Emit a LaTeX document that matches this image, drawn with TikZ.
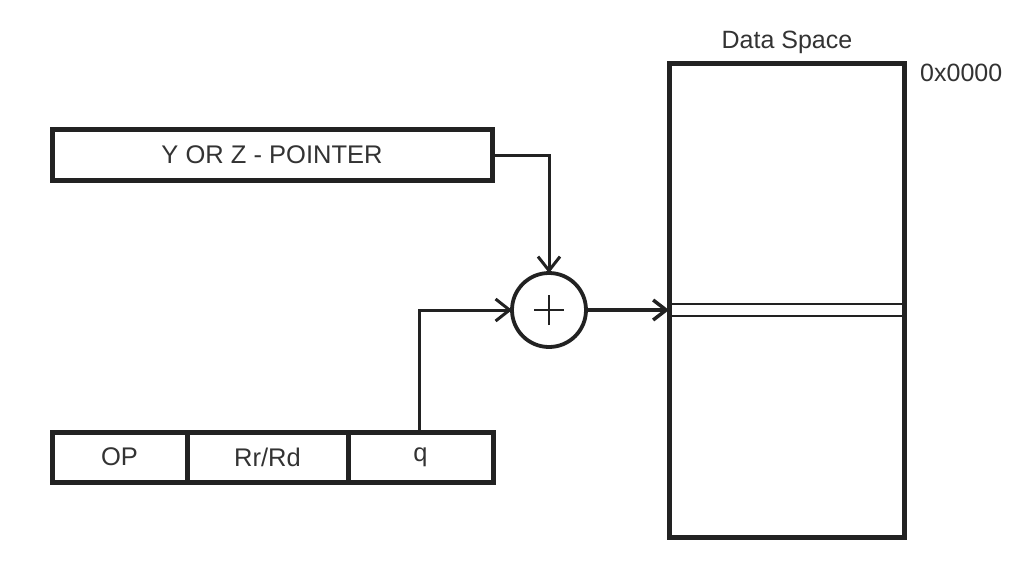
\documentclass[tikz,border=0pt]{standalone}
\usepackage{fontspec}
\setmainfont{Liberation Sans}
\usetikzlibrary{arrows.meta}
\definecolor{ink}{HTML}{222222}
\definecolor{txt}{HTML}{333333}
\tikzset{
  boxline/.style={draw=ink, line width=5pt, inner sep=0pt, outer sep=0pt, text=txt, font=\fontsize{25.5}{30}\selectfont},
  thinarrow/.style={draw=ink, line width=3pt, -{Straight Barb[length=14pt,width=22pt,line width=3pt]}},
  thickarrow/.style={draw=ink, line width=4.5pt, -{Straight Barb[length=13pt,width=20pt,line width=3.5pt]}},
  lbl/.style={text=txt, font=\fontsize{25}{30}\selectfont, inner sep=0pt}
}
\begin{document}
\begin{tikzpicture}[x=1pt,y=-1pt]
\useasboundingbox[fill=white] (0,0) rectangle (1014,574);
% pointer box
\node[boxline, minimum width=440pt, minimum height=51pt] (ptr) at (272,155) {Y OR Z - POINTER};
% instruction fields
\node[boxline, minimum width=135pt, minimum height=50pt] (op) at (119.5,457) {OP};
\node[boxline, minimum width=161pt, minimum height=50pt] (rr) at (267.5,457) {Rr/Rd};
\node[boxline, minimum width=145pt, minimum height=50pt] (q) at (420.5,457) {q};
% data space
\node[draw=ink, line width=5pt, minimum width=235pt, minimum height=474pt, inner sep=0pt, outer sep=0pt] (ds) at (786.5,300) {};
\node[lbl] (dslbl) at (787,42) {Data Space};
\node[lbl, anchor=west] (addr) at (920,73) {0x0000};
\coordinate (s1l) at (669,303.5); \coordinate (s1r) at (904,303.5);
\coordinate (s2l) at (669,315.5); \coordinate (s2r) at (904,315.5);
\draw[ink, line width=2pt] (s1l) -- (s1r);
\draw[ink, line width=2pt] (s2l) -- (s2r);
% adder
\node[draw=ink, circle, line width=3.8pt, minimum size=74pt, inner sep=0pt, outer sep=0pt] (add) at (549,310) {};
\draw[ink, line width=1.6pt] ([xshift=-15pt]add.center) -- ([xshift=15pt]add.center);
\draw[ink, line width=1.6pt] ([yshift=-15pt]add.center) -- ([yshift=15pt]add.center);
% connectors
\draw[thinarrow] (ptr.east) -| (add.north);
\draw[thinarrow] (q.north -| 419,0) |- (add.west);
\draw[thickarrow] (add.east) -- (add.east -| ds.west);
\end{tikzpicture}
\end{document}
